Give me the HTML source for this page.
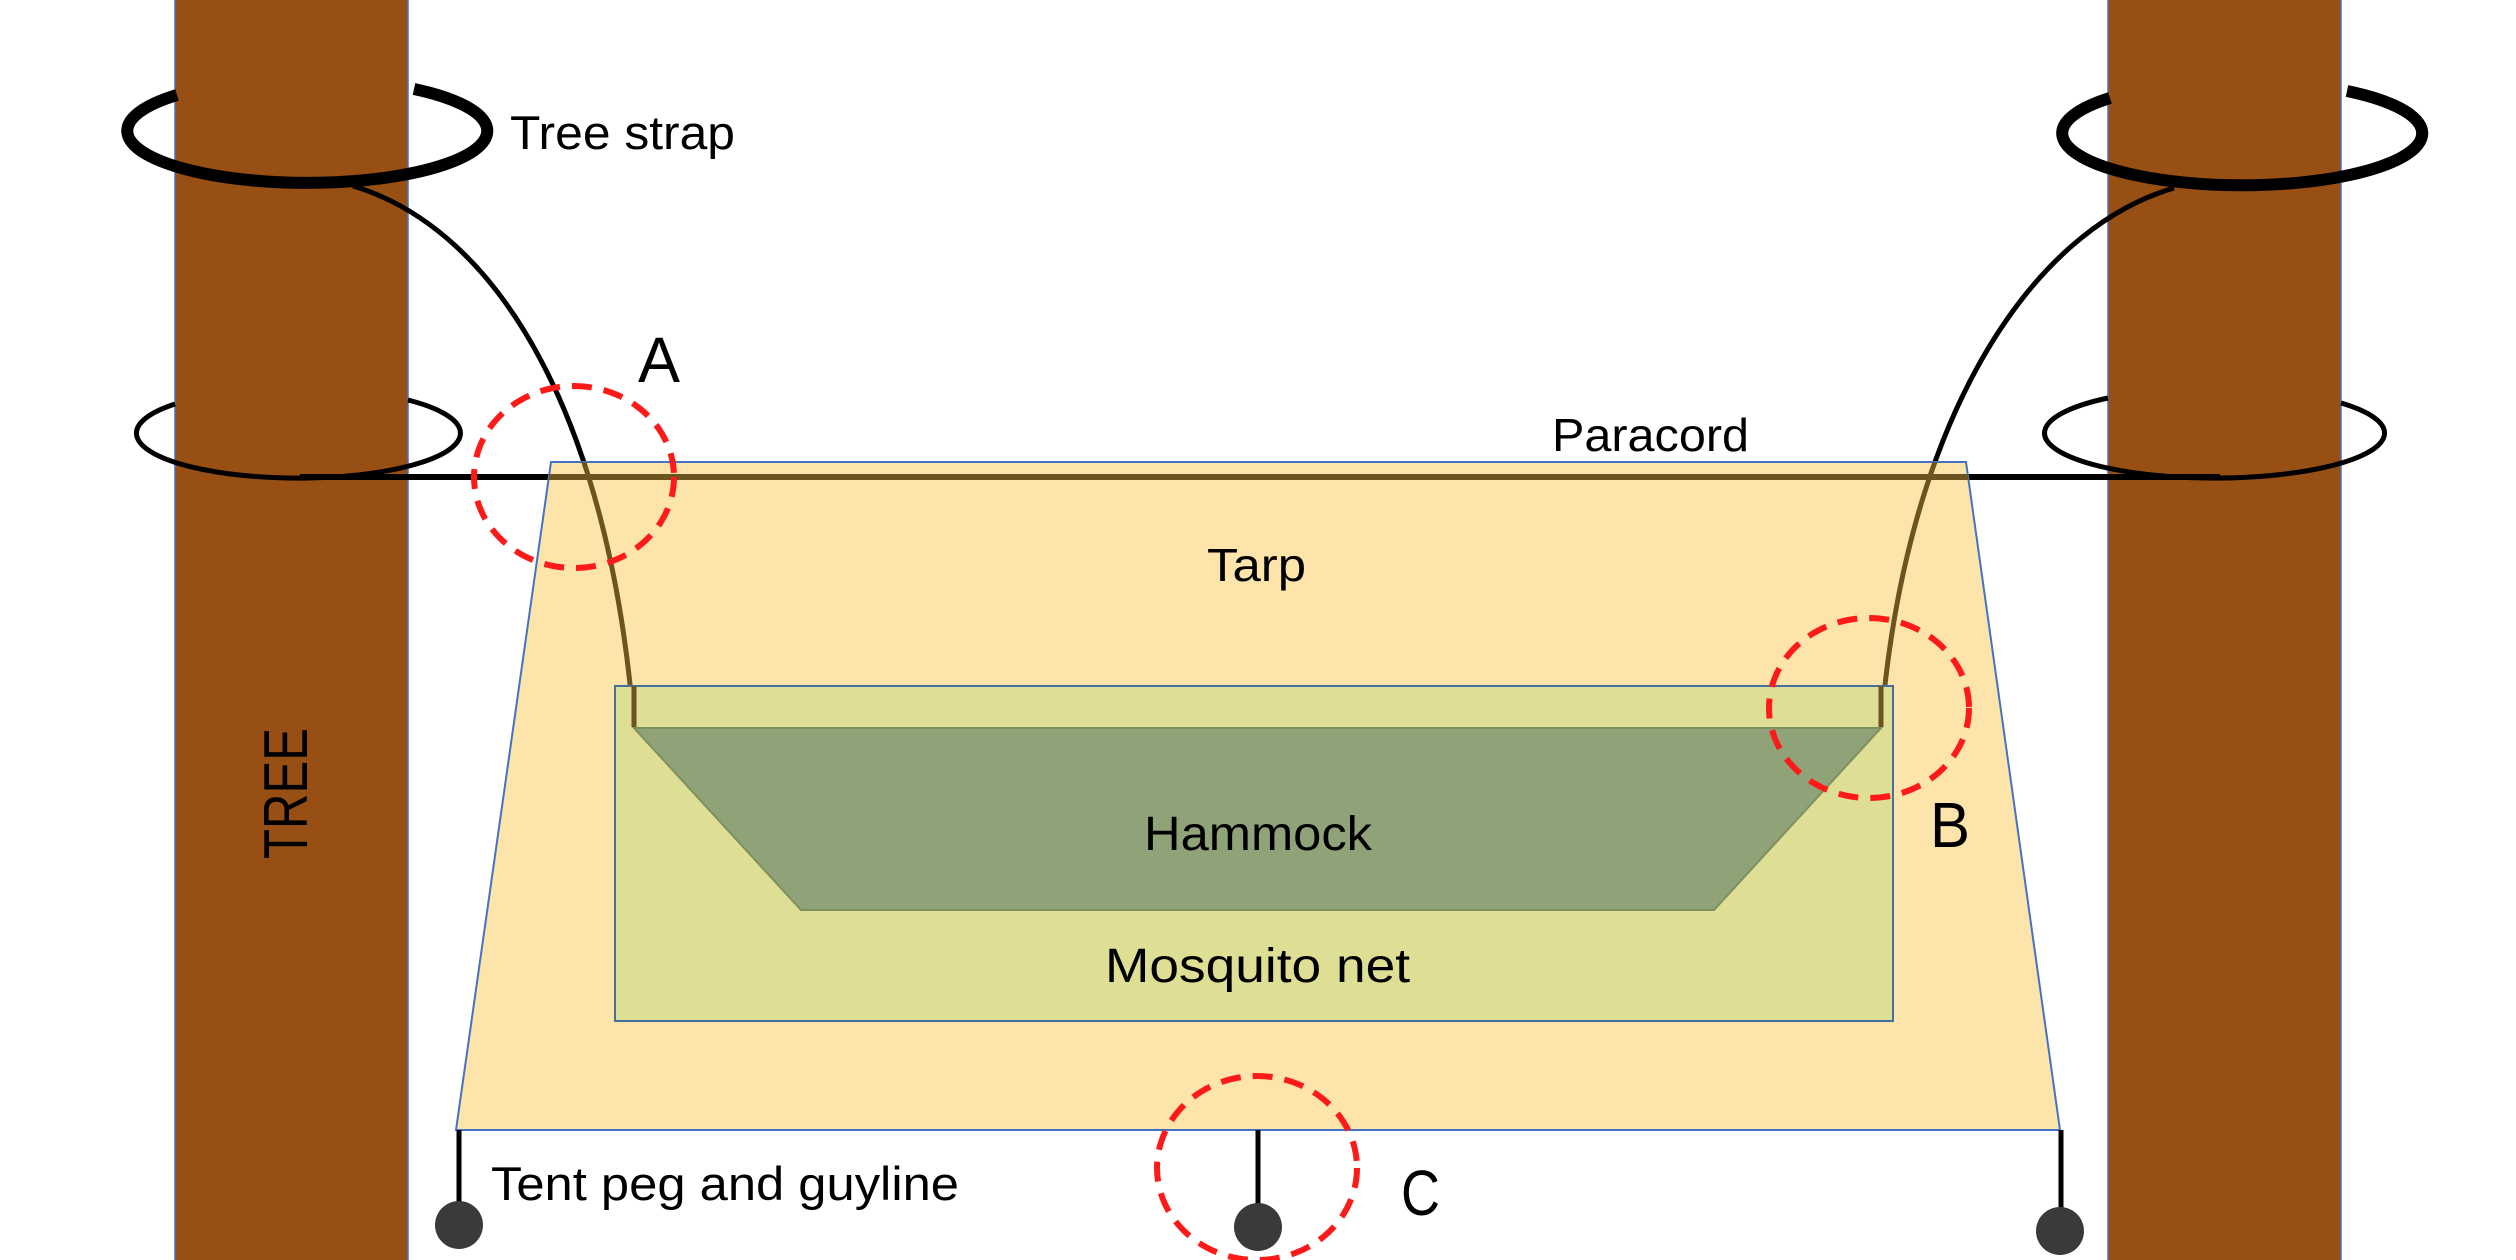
<!DOCTYPE html>
<html><head><meta charset="utf-8"><style>
html,body{margin:0;padding:0;background:#fff;}
svg{display:block;}
text{font-family:"Liberation Sans",sans-serif;fill:#000;}
</style></head><body>
<svg width="2516" height="1260" viewBox="0 0 2516 1260" xmlns="http://www.w3.org/2000/svg">
<defs>
<clipPath id="tc"><polygon points="551,462 1966,462 2060,1130 456,1130"/></clipPath>
</defs>
<rect width="2516" height="1260" fill="#fff"/>
<!-- trees -->
<rect x="175" y="-2" width="233" height="1265" fill="#974f13" stroke="#4472c4" stroke-width="1.5"/>
<rect x="2108" y="-2" width="233" height="1265" fill="#974f13" stroke="#4472c4" stroke-width="1.5"/>
<!-- straps (visible portions only) -->
<path d="M177,95 A180,52 0 1 0 414,89" fill="none" stroke="#000" stroke-width="12"/>
<path d="M2110,98 A180,52 0 1 0 2347,91" fill="none" stroke="#000" stroke-width="12"/>
<path d="M175,404 A162,45 0 1 0 408,400" fill="none" stroke="#000" stroke-width="5"/>
<path d="M2108,398 A170,45 0 1 0 2341,403" fill="none" stroke="#000" stroke-width="5"/>
<!-- paracord -->
<line x1="300" y1="477" x2="2220" y2="477" stroke="#000" stroke-width="6"/>
<!-- suspension lines -->
<path d="M353,186 C500,230 610,420 634,727" fill="none" stroke="#000" stroke-width="5"/>
<path d="M2174,188 C2030,230 1905,420 1881,727" fill="none" stroke="#000" stroke-width="5"/>
<!-- tarp -->
<polygon points="551,462 1966,462 2060,1130 456,1130" fill="#fde4ab" stroke="#4472c4" stroke-width="2"/>
<g clip-path="url(#tc)">
<line x1="300" y1="477" x2="2220" y2="477" stroke="#6b5420" stroke-width="6"/>
<path d="M353,186 C500,230 610,420 634,727" fill="none" stroke="#6b5420" stroke-width="5"/>
<path d="M2174,188 C2030,230 1905,420 1881,727" fill="none" stroke="#6b5420" stroke-width="5"/>
</g>
<!-- net -->
<rect x="615" y="686" width="1278" height="335" fill="#dede94" stroke="#41719c" stroke-width="2"/>
<line x1="634" y1="686" x2="634" y2="727" stroke="#6b5420" stroke-width="5"/>
<line x1="1881" y1="686" x2="1881" y2="727" stroke="#6b5420" stroke-width="5"/>
<!-- hammock -->
<polygon points="634,728 1881,728 1714,910 801,910" fill="#90a278" stroke="#7f9060" stroke-width="2"/>
<!-- pegs -->
<g stroke="#000" stroke-width="5">
<line x1="459" y1="1130" x2="459" y2="1205"/>
<line x1="1258" y1="1130" x2="1258" y2="1207"/>
<line x1="2061" y1="1130" x2="2061" y2="1210"/>
</g>
<g fill="#3a3a3a">
<circle cx="459" cy="1225" r="24"/>
<circle cx="1258" cy="1227" r="24"/>
<circle cx="2060" cy="1231" r="24"/>
</g>
<!-- red circles -->
<g fill="none" stroke="#ff1a1a" stroke-width="6" stroke-dasharray="20 12">
<ellipse cx="574" cy="477" rx="100" ry="91"/>
<ellipse cx="1869" cy="708" rx="100" ry="90"/>
<ellipse cx="1257" cy="1168" rx="100" ry="92"/>
</g>
<!-- labels -->
<text x="510" y="149" font-size="47" textLength="225" lengthAdjust="spacingAndGlyphs">Tree strap</text>
<text x="638" y="382" font-size="64" textLength="42" lengthAdjust="spacingAndGlyphs">A</text>
<text x="1552" y="451" font-size="46" textLength="197" lengthAdjust="spacingAndGlyphs">Paracord</text>
<text x="1207" y="581" font-size="46" textLength="99" lengthAdjust="spacingAndGlyphs">Tarp</text>
<text x="1144" y="850" font-size="48" textLength="228" lengthAdjust="spacingAndGlyphs">Hammock</text>
<text x="1105" y="982" font-size="48" textLength="305" lengthAdjust="spacingAndGlyphs">Mosquito net</text>
<text x="1930" y="847" font-size="64" textLength="40" lengthAdjust="spacingAndGlyphs">B</text>
<text x="1401" y="1215" font-size="64" textLength="39" lengthAdjust="spacingAndGlyphs">C</text>
<text x="491" y="1200" font-size="47" textLength="468" lengthAdjust="spacingAndGlyphs">Tent peg and guyline</text>
<text transform="translate(307,859) rotate(-90)" font-size="62" textLength="131" lengthAdjust="spacingAndGlyphs">TREE</text>
</svg>
</body></html>
